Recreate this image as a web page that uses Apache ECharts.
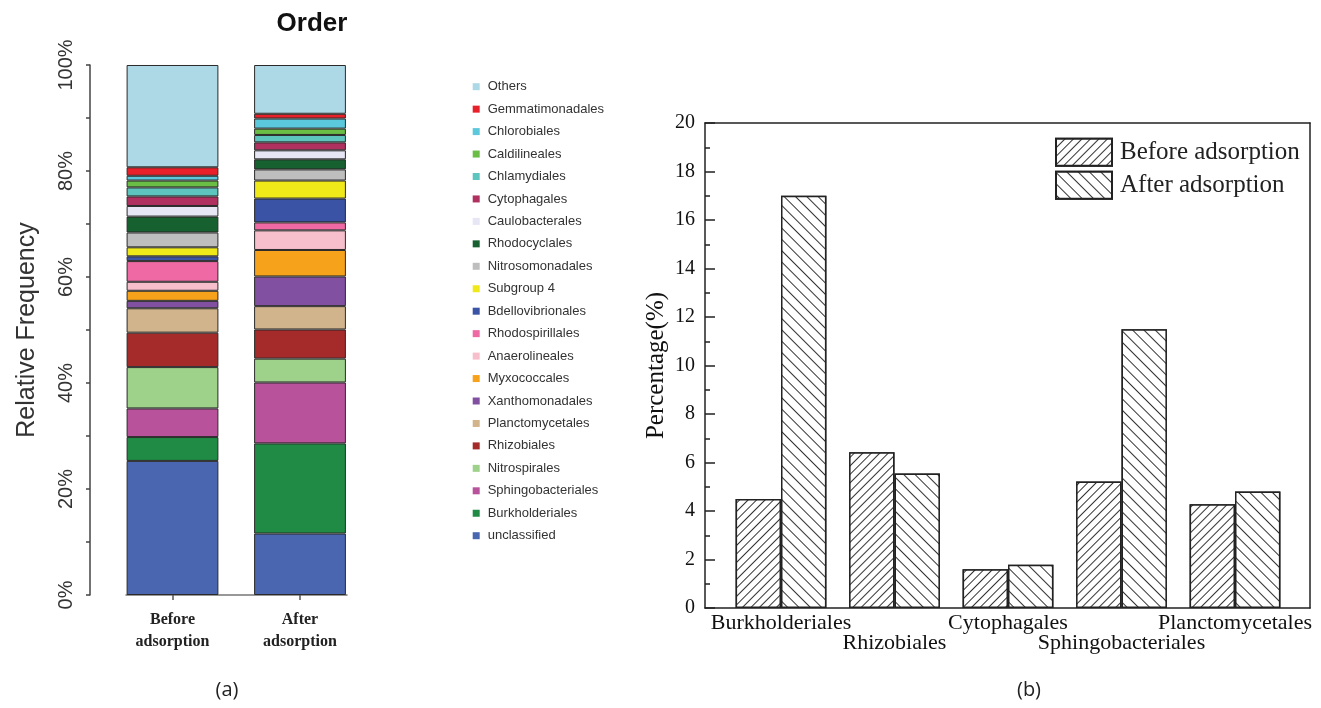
<!DOCTYPE html>
<html>
<head>
<meta charset="utf-8">
<script src="https://cdn.jsdelivr.net/npm/echarts@6/dist/echarts.min.js"></script>
<style>html,body{margin:0;padding:0;background:#fff}#c{width:1321px;height:708px}</style>
</head>
<body>
<div id="c"></div>
<script>
// ---- Panel (a): stacked relative frequency by order ----
const samplesA = ['Before adsorption', 'After adsorption'];
const ordersA = ['unclassified','Burkholderiales','Sphingobacteriales','Nitrospirales','Rhizobiales','Planctomycetales','Xanthomonadales','Myxococcales','Anaerolineales','Rhodospirillales','Bdellovibrionales','Subgroup 4','Nitrosomonadales','Rhodocyclales','Caulobacterales','Cytophagales','Chlamydiales','Caldilineales','Chlorobiales','Gemmatimonadales','Others'];
const beforeA = [25.3,4.5,5.4,7.8,6.5,4.6,1.4,1.9,1.7,3.9,0.9,1.7,2.8,3.0,2.0,1.8,1.7,1.3,0.9,1.6,19.3];
const afterA  = [11.6,17.0,11.5,4.5,5.5,4.4,5.6,5.0,3.7,1.5,4.5,3.4,2.1,1.9,1.7,1.5,1.4,1.2,1.9,0.9,9.2];
const colorsA = ['#4a66b0','#1f8b45','#b8529a','#9ed28a','#a52a2a','#d2b48c','#8150a0','#f7a21b','#f7bfcb','#ef6aa5','#3a53a4','#f0e91a','#bebebe','#17602f','#e6e6f5','#b0305f','#5ec4be','#6abd45','#5bc8db','#e8202a','#add8e6'];
const ticksA = [0,20,40,60,80,100];

// ---- Panel (b): percentage of selected orders ----
const ordersB = ['Burkholderiales','Rhizobiales','Cytophagales','Sphingobacteriales','Planctomycetales'];
const beforeB = [4.5, 6.42, 1.6, 5.22, 4.28];
const afterB  = [17.0, 5.55, 1.78, 11.5, 4.8];
const seriesNamesB = ['Before adsorption', 'After adsorption'];

const SANS = "'Liberation Sans', Arial, sans-serif";
const SERIF = "'Liberation Serif', 'Times New Roman', serif";

const chart = echarts.init(document.getElementById('c'));

const seriesA = ordersA.map((name, i) => ({
  name: name,
  type: 'bar',
  stack: 'a',
  xAxisIndex: 0,
  yAxisIndex: 0,
  barWidth: '72%',
  data: [beforeA[i], afterA[i]],
  itemStyle: { color: colorsA[i], borderColor: '#2a2a2a', borderWidth: 1 }
}));

const hatch = (rot, gap) => ({
  symbol: 'rect', symbolSize: 1,
  dashArrayX: [1, 0], dashArrayY: [1, gap],
  rotation: rot, color: '#333', backgroundColor: '#fff'
});

const seriesB = [
  { name: seriesNamesB[0], type: 'bar', xAxisIndex: 4, yAxisIndex: 4, barGap: '0%', barCategoryGap: '20%',
    data: beforeB, itemStyle: { color: '#fff', borderColor: '#222', borderWidth: 1.5, decal: hatch(-Math.PI/4, 5) } },
  { name: seriesNamesB[1], type: 'bar', xAxisIndex: 4, yAxisIndex: 4, barGap: '0%', barCategoryGap: '20%',
    data: afterB, itemStyle: { color: '#fff', borderColor: '#222', borderWidth: 1.5, decal: hatch(Math.PI/4, 7) } }
];

const frameLine = { show: true, onZero: false, lineStyle: { color: '#222', width: 1.5 } };

const option = {
  animation: false,
  backgroundColor: '#fff',
  title: [
    { text: 'Order', left: 312, top: 11, textAlign: 'center', padding: 0,
      textStyle: { fontFamily: SANS, fontWeight: 'bold', fontSize: 26, color: '#111' } },
    { text: '(a)', left: 227, top: 680, textAlign: 'center', padding: 0,
      textStyle: { fontFamily: "'Open Sans', sans-serif", fontWeight: 'normal', fontSize: 20, color: '#222' } },
    { text: '(b)', left: 1029, top: 680, textAlign: 'center', padding: 0,
      textStyle: { fontFamily: "'Open Sans', sans-serif", fontWeight: 'normal', fontSize: 20, color: '#222' } }
  ],
  legend: [
    { data: ordersA.slice().reverse(), orient: 'vertical', left: 472.7, top: 79.7, padding: 0,
      itemWidth: 7, itemHeight: 7, itemGap: 8.45, icon: 'rect',
      itemStyle: { borderWidth: 0 },
      textStyle: { fontFamily: SANS, fontSize: 13, color: '#333', lineHeight: 14, padding: [0, 0, 0, 3] } },
    { data: seriesNamesB, orient: 'vertical', left: 1055, top: 137.7, padding: 0,
      itemWidth: 56, itemHeight: 27, itemGap: 4, icon: 'rect',
      textStyle: { fontFamily: SERIF, fontSize: 25, color: '#222', lineHeight: 27, padding: [0, 0, 0, 3] } }
  ],
  grid: [
    { left: 108.75, width: 255, top: 65, bottom: 113 },
    { left: 126, width: 221, top: 65, bottom: 113 },
    { left: 705, right: 11, top: 123, bottom: 100 },
    { left: 724.25, width: 567.5, top: 123, bottom: 100 }
  ],
  xAxis: [
    { gridIndex: 0, type: 'category', data: samplesA,
      axisLine: { show: false },
      axisTick: { show: true, alignWithLabel: true, length: 5, lineStyle: { color: '#555', width: 1.5 } },
      axisLabel: { fontFamily: SERIF, fontWeight: 'bold', fontSize: 16, lineHeight: 22, color: '#222', margin: 14,
        formatter: v => v.replace(' ', '\n') } },
    { gridIndex: 1, type: 'value', min: 0, max: 1,
      axisLine: { show: true, onZero: false, lineStyle: { color: '#777', width: 1.5 } },
      axisTick: { show: false }, axisLabel: { show: false }, splitLine: { show: false } },
    { gridIndex: 2, type: 'value', min: 0, max: 1, position: 'bottom',
      axisLine: frameLine,
      axisTick: { show: false }, axisLabel: { show: false }, splitLine: { show: false } },
    { gridIndex: 2, type: 'value', min: 0, max: 1, position: 'top',
      axisLine: frameLine,
      axisTick: { show: false }, axisLabel: { show: false }, splitLine: { show: false } },
    { gridIndex: 3, type: 'category', data: ordersB,
      axisLine: { show: false }, axisTick: { show: false },
      axisLabel: { fontFamily: SERIF, fontSize: 22, lineHeight: 20, color: '#111', margin: 5, interval: 0,
        formatter: (v, i) => (i % 2 ? '\n' + v : v) } }
  ],
  yAxis: [
    { gridIndex: 0, type: 'value', min: 0, max: 100, interval: 10, offset: 18.75,
      axisLine: { show: true, onZero: false, lineStyle: { color: '#444', width: 1.5 } },
      axisTick: { show: true, length: 4, lineStyle: { color: '#444', width: 1.5 } },
      axisLabel: { rotate: 90, margin: 14, fontFamily: SANS, fontSize: 20, color: '#333',
        formatter: v => (ticksA.indexOf(v) >= 0 ? v + '%' : '') },
      splitLine: { show: false },
      name: 'Relative Frequency', nameLocation: 'middle', nameGap: 50,
      nameTextStyle: { fontFamily: SANS, fontSize: 25, color: '#333' } },
    { gridIndex: 1, type: 'value', min: 0, max: 100, show: false },
    { gridIndex: 2, type: 'value', min: 0, max: 20, interval: 2, position: 'left',
      axisLine: frameLine,
      axisTick: { show: true, inside: true, length: 10, lineStyle: { color: '#222', width: 1.5 } },
      minorTick: { show: true, splitNumber: 2, length: 5, lineStyle: { color: '#222', width: 1.5 } },
      axisLabel: { fontFamily: SERIF, fontSize: 20, color: '#111', margin: 10 },
      splitLine: { show: false },
      name: 'Percentage(%)', nameLocation: 'middle', nameGap: 36,
      nameTextStyle: { fontFamily: SERIF, fontSize: 25, color: '#111' } },
    { gridIndex: 2, type: 'value', min: 0, max: 20, position: 'right',
      axisLine: frameLine,
      axisTick: { show: false }, axisLabel: { show: false }, splitLine: { show: false } },
    { gridIndex: 3, type: 'value', min: 0, max: 20, show: false }
  ],
  series: seriesA.concat(seriesB)
};

chart.setOption(option);
</script>
</body>
</html>
